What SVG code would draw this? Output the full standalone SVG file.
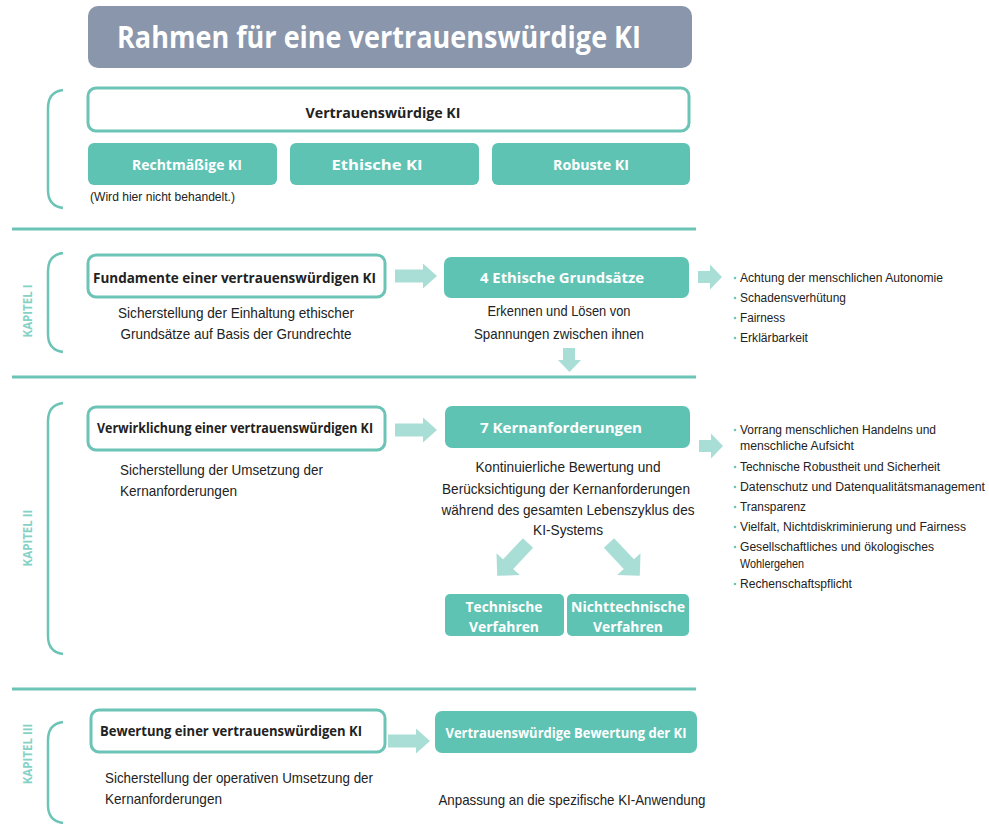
<svg xmlns="http://www.w3.org/2000/svg" width="989" height="824" viewBox="0 0 989 824">
<style>
.bg{fill:#ffffff}
.sep{stroke:#6cc4b6;stroke-width:3;fill:none}
.brk{stroke:#6cc4b6;stroke-width:2.5;fill:none}
.obox{fill:#ffffff;stroke:#6cc4b6;stroke-width:3}
.fbox{fill:#5fc3b4}
.arr{fill:#a9ded6}
.kap{font-family:"Open Sans","Liberation Sans",sans-serif;font-weight:700;font-size:11.5px;fill:#86d1c6}
.lb{font-family:"Open Sans","Liberation Sans",sans-serif;font-weight:700;font-size:14px;fill:#222222}
.lw{font-family:"Open Sans","Liberation Sans",sans-serif;font-weight:700;font-size:14.5px;fill:#ffffff}
.tx{font-family:"Liberation Sans","DejaVu Sans",sans-serif;font-size:15px;fill:#222222}
.li{font-family:"Liberation Sans","DejaVu Sans",sans-serif;font-size:12.5px;fill:#222222}
.dot{fill:#6cc4b6}
</style>
<rect class="bg" width="989" height="824"/>

<g id="title">
<rect x="88" y="6" width="604" height="62" rx="10" fill="#8a96ab"/>
<text x="117" y="48" font-family="Open Sans, Liberation Sans, sans-serif" font-weight="700" font-size="30" fill="#ffffff" textLength="524" lengthAdjust="spacingAndGlyphs">Rahmen für eine vertrauenswürdige KI</text>
</g>

<g id="separators">
<line class="sep" x1="12" y1="229" x2="696" y2="229"/>
<line class="sep" x1="12" y1="377" x2="696" y2="377"/>
<line class="sep" x1="12" y1="689" x2="696" y2="689"/>
</g>

<g id="brackets">
<path class="brk" d="M63,90 Q48,92 48,108 V190 Q48,206 63,208"/>
<path class="brk" d="M63,253 Q48,255 48,271 V334 Q48,350 63,352"/>
<path class="brk" d="M63,403 Q48,405 48,421 V636 Q48,652 63,654"/>
<path class="brk" d="M63,722 Q48,724 48,740 V805 Q48,821 63,823"/>
</g>

<g id="kapitel">
<text class="kap" transform="translate(32,311) rotate(-90)" text-anchor="middle">KAPITEL I</text>
<text class="kap" transform="translate(32,538) rotate(-90)" text-anchor="middle">KAPITEL II</text>
<text class="kap" transform="translate(32,754) rotate(-90)" text-anchor="middle">KAPITEL III</text>
</g>

<g id="vertrauenswuerdige-ki">
<rect class="obox" x="88" y="88" width="601" height="43" rx="8"/>
<text class="lb" x="383" y="118" text-anchor="middle" textLength="155" lengthAdjust="spacingAndGlyphs">Vertrauenswürdige KI</text>
</g>
<g id="rechtmaessige-ki">
<rect class="fbox" x="88" y="143" width="189" height="42" rx="6"/>
<text class="lw" x="187" y="170" text-anchor="middle" textLength="110" lengthAdjust="spacingAndGlyphs">Rechtmäßige KI</text>
<text class="li" x="90" y="201" textLength="145" lengthAdjust="spacingAndGlyphs">(Wird hier nicht behandelt.)</text>
</g>
<g id="ethische-ki">
<rect class="fbox" x="290" y="143" width="189" height="42" rx="6"/>
<text class="lw" x="377" y="170" text-anchor="middle" textLength="91" lengthAdjust="spacingAndGlyphs">Ethische KI</text>
</g>
<g id="robuste-ki">
<rect class="fbox" x="492" y="143" width="198" height="42" rx="6"/>
<text class="lw" x="591" y="170" text-anchor="middle" textLength="76" lengthAdjust="spacingAndGlyphs">Robuste KI</text>
</g>

<g id="fundamente">
<rect class="obox" x="88" y="255" width="297" height="42" rx="8"/>
<text class="lb" x="93" y="283" textLength="283" lengthAdjust="spacingAndGlyphs">Fundamente einer vertrauenswürdigen KI</text>
<text class="tx" x="236" y="318" text-anchor="middle" textLength="236" lengthAdjust="spacingAndGlyphs">Sicherstellung der Einhaltung ethischer</text>
<text class="tx" x="236" y="339" text-anchor="middle" textLength="231" lengthAdjust="spacingAndGlyphs">Grundsätze auf Basis der Grundrechte</text>
</g>

<g id="ethische-grundsaetze">
<rect class="fbox" x="444" y="257" width="245" height="41" rx="7"/>
<text class="lw" x="562" y="283" text-anchor="middle" textLength="164" lengthAdjust="spacingAndGlyphs">4 Ethische Grundsätze</text>
<text class="tx" x="559" y="316" text-anchor="middle" textLength="143" lengthAdjust="spacingAndGlyphs">Erkennen und Lösen von</text>
<text class="tx" x="559" y="339" text-anchor="middle" textLength="170" lengthAdjust="spacingAndGlyphs">Spannungen zwischen ihnen</text>
</g>

<g id="grundsaetze-liste">
<circle class="dot" cx="735" cy="278" r="1.3"/>
<text class="li" x="740" y="282" textLength="203" lengthAdjust="spacingAndGlyphs">Achtung der menschlichen Autonomie</text>
<circle class="dot" cx="735" cy="298" r="1.3"/>
<text class="li" x="740" y="302" textLength="106" lengthAdjust="spacingAndGlyphs">Schadensverhütung</text>
<circle class="dot" cx="735" cy="318" r="1.3"/>
<text class="li" x="740" y="322" textLength="45" lengthAdjust="spacingAndGlyphs">Fairness</text>
<circle class="dot" cx="735" cy="338" r="1.3"/>
<text class="li" x="740" y="342" textLength="68" lengthAdjust="spacingAndGlyphs">Erklärbarkeit</text>
</g>

<g id="verwirklichung">
<rect class="obox" x="88" y="407" width="297" height="43" rx="8"/>
<text class="lb" x="97" y="433" textLength="276" lengthAdjust="spacingAndGlyphs">Verwirklichung einer vertrauenswürdigen KI</text>
<text class="tx" x="120" y="475" textLength="203" lengthAdjust="spacingAndGlyphs">Sicherstellung der Umsetzung der</text>
<text class="tx" x="120" y="496" textLength="117" lengthAdjust="spacingAndGlyphs">Kernanforderungen</text>
</g>

<g id="kernanforderungen">
<rect class="fbox" x="445" y="406" width="245" height="42" rx="7"/>
<text class="lw" x="561" y="433" text-anchor="middle" textLength="162" lengthAdjust="spacingAndGlyphs">7 Kernanforderungen</text>
<text class="tx" x="568" y="472" text-anchor="middle" textLength="185" lengthAdjust="spacingAndGlyphs">Kontinuierliche Bewertung und</text>
<text class="tx" x="566" y="494" text-anchor="middle" textLength="248" lengthAdjust="spacingAndGlyphs">Berücksichtigung der Kernanforderungen</text>
<text class="tx" x="568" y="515" text-anchor="middle" textLength="253" lengthAdjust="spacingAndGlyphs">während des gesamten Lebenszyklus des</text>
<text class="tx" x="568" y="535" text-anchor="middle" textLength="70" lengthAdjust="spacingAndGlyphs">KI-Systems</text>
</g>

<g id="kern-liste">
<circle class="dot" cx="735" cy="430" r="1.3"/>
<text class="li" x="740" y="434" textLength="196" lengthAdjust="spacingAndGlyphs">Vorrang menschlichen Handelns und</text>
<text class="li" x="740" y="450" textLength="114" lengthAdjust="spacingAndGlyphs">menschliche Aufsicht</text>
<circle class="dot" cx="735" cy="467" r="1.3"/>
<text class="li" x="740" y="471" textLength="200" lengthAdjust="spacingAndGlyphs">Technische Robustheit und Sicherheit</text>
<circle class="dot" cx="735" cy="487" r="1.3"/>
<text class="li" x="740" y="491" textLength="245" lengthAdjust="spacingAndGlyphs">Datenschutz und Datenqualitätsmanagement</text>
<circle class="dot" cx="735" cy="507" r="1.3"/>
<text class="li" x="740" y="511" textLength="66" lengthAdjust="spacingAndGlyphs">Transparenz</text>
<circle class="dot" cx="735" cy="527" r="1.3"/>
<text class="li" x="740" y="531" textLength="226" lengthAdjust="spacingAndGlyphs">Vielfalt, Nichtdiskriminierung und Fairness</text>
<circle class="dot" cx="735" cy="547" r="1.3"/>
<text class="li" x="740" y="551" textLength="194" lengthAdjust="spacingAndGlyphs">Gesellschaftliches und ökologisches</text>
<text class="li" x="740" y="568" textLength="64" lengthAdjust="spacingAndGlyphs">Wohlergehen</text>
<circle class="dot" cx="735" cy="584" r="1.3"/>
<text class="li" x="740" y="588" textLength="112" lengthAdjust="spacingAndGlyphs">Rechenschaftspflicht</text>
</g>

<g id="technische-verfahren">
<rect class="fbox" x="445" y="594" width="119" height="42" rx="5"/>
<text class="lw" x="504" y="612" text-anchor="middle" textLength="77" lengthAdjust="spacingAndGlyphs">Technische</text>
<text class="lw" x="504" y="632" text-anchor="middle" textLength="70" lengthAdjust="spacingAndGlyphs">Verfahren</text>
</g>
<g id="nichttechnische-verfahren">
<rect class="fbox" x="567" y="594" width="122" height="42" rx="5"/>
<text class="lw" x="628" y="612" text-anchor="middle" textLength="114" lengthAdjust="spacingAndGlyphs">Nichttechnische</text>
<text class="lw" x="628" y="632" text-anchor="middle" textLength="70" lengthAdjust="spacingAndGlyphs">Verfahren</text>
</g>

<g id="bewertung">
<rect class="obox" x="91" y="710" width="294" height="42" rx="8"/>
<text class="lb" x="100" y="736" textLength="262" lengthAdjust="spacingAndGlyphs">Bewertung einer vertrauenswürdigen KI</text>
<text class="tx" x="105" y="783" textLength="268" lengthAdjust="spacingAndGlyphs">Sicherstellung der operativen Umsetzung der</text>
<text class="tx" x="105" y="804" textLength="117" lengthAdjust="spacingAndGlyphs">Kernanforderungen</text>
</g>

<g id="vertrauenswuerdige-bewertung">
<rect class="fbox" x="435" y="711" width="262" height="42" rx="7"/>
<text class="lw" x="566" y="738" text-anchor="middle" textLength="241" lengthAdjust="spacingAndGlyphs">Vertrauenswürdige Bewertung der KI</text>
<text class="tx" x="572" y="805" text-anchor="middle" textLength="267" lengthAdjust="spacingAndGlyphs">Anpassung an die spezifische KI-Anwendung</text>
</g>

<g id="connectors">
<path class="arr" d="M395,269.5 H423 V263.5 L437,276 L423,288.5 V282.5 H395 Z"/>
<path class="arr" d="M698,271 H710 V264.5 L722,277 L710,289.5 V283 H698 Z"/>
<path class="arr" d="M563,348 H575 V360 H581 L569.5,372 L558,360 H563 Z"/>
<path class="arr" d="M395,423.5 H423 V417.5 L437,430 L423,442.5 V436.5 H395 Z"/>
<path class="arr" d="M699,440 H711 V433.5 L723,446 L711,458.5 V452 H699 Z"/>
<path class="arr" transform="translate(528,543) rotate(133.2)" d="M0,-7 H29 V-16 L45,0 L29,16 V7 H0 Z"/>
<path class="arr" transform="translate(609,543) rotate(46.8)" d="M0,-7 H29 V-16 L45,0 L29,16 V7 H0 Z"/>
<path class="arr" d="M388,734.5 H416 V728.5 L430,741 L416,753.5 V747.5 H388 Z"/>
</g>
</svg>
